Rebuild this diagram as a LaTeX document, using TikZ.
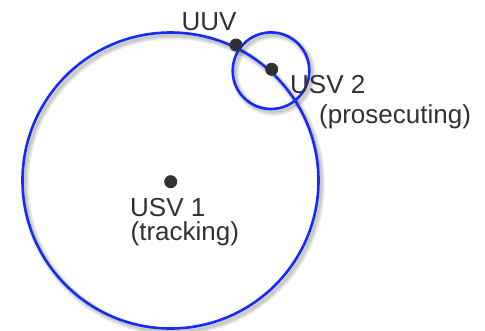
\documentclass[tikz,border=0pt]{standalone}
\usepackage{fontspec}
\setmainfont{Liberation Sans}

\definecolor{ringblue}{RGB}{22,42,248}
\definecolor{inkgray}{RGB}{48,48,54}

\tikzset{
  ring/.style={draw=ringblue, line width=2.6pt},
  haze/.style={draw=black, line width=#1, opacity=0.06},
  vehicle/.style={circle, fill=inkgray, inner sep=0pt, minimum size=13pt},
  tag/.style={text=inkgray, inner sep=0pt, anchor=base west,
              font=\fontsize{26}{26}\selectfont},
}

\begin{document}
\begin{tikzpicture}[x=1pt,y=-1pt]
  \useasboundingbox (0,0) rectangle (485,330);
  % soft shadow under both ranges
  \foreach \w in {2,4,6,8} {
    \draw[haze=\w pt] (173,183.5) circle (148);
    \draw[haze=\w pt] (273.5,73.5) circle (38.3);
  }
  % tracking and prosecuting ranges
  \draw[ring] (170.5,180.5) circle (148);
  \draw[ring] (271,70.7) circle (38.3);

  \node[vehicle] (usv1) at (170.7,181.7) {};
  \node[vehicle] (usv2) at (271.7,69.3) {};
  \node[vehicle] (uuv) at (236,45) {};

  \node[tag] (uuvtag) at (181.5,30) {UUV};
  \node[tag] (usv2tag) at (290,93.3) {USV 2};
  \node[tag] (usv2role) at (319,123.3) {(prosecuting)};
  \node[tag] (usv1tag) at (130,216.7) {USV 1};
  \node[tag] (usv1role) at (130.5,240.7) {(tracking)};
\end{tikzpicture}
\end{document}
